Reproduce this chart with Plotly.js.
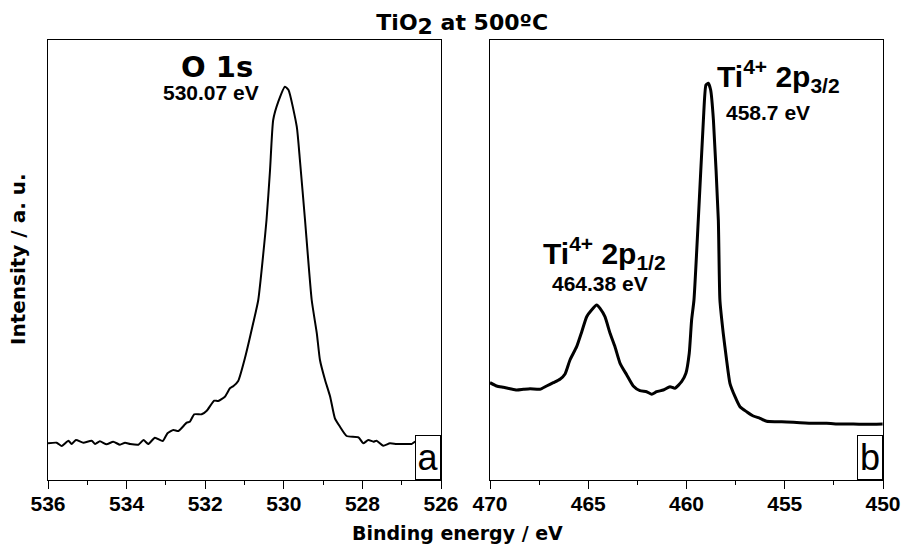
<!DOCTYPE html>
<html><head><meta charset="utf-8">
<script src="https://cdn.plot.ly/plotly-3.0.1.min.js"></script>
<style>html,body{margin:0;padding:0;background:#fff}#chart{width:901px;height:550px}</style>
</head><body><div id="chart"></div>
<script>
// O 1s spectrum (binding energy in eV, intensity in a.u.)
const o1sEnergy = [536.00,535.78,535.65,535.48,535.40,535.29,535.10,534.89,534.80,534.68,
  534.51,534.34,534.17,534.04,533.91,533.70,533.57,533.45,533.28,533.08,
  532.96,532.81,532.68,532.47,532.39,532.28,532.09,531.96,531.77,531.67,
  531.50,531.37,531.28,531.16,530.99,530.78,530.65,530.44,530.35,530.27,
  530.14,529.97,529.88,529.67,529.59,529.46,529.29,529.16,529.08,528.95,
  528.82,528.70,528.57,528.40,528.10,527.98,527.85,527.72,527.64,527.47,
  527.30,527.13,526.87,526.75,526.66,526.45,526.20];
const o1sIntensity = [36.7,37.3,34.0,39.3,36.0,40.0,37.3,39.3,36.0,38.7,
  35.7,38.3,35.3,37.3,36.0,35.3,40.0,36.0,42.3,39.0,
  46.7,50.0,49.0,57.3,58.3,65.7,65.7,69.3,79.3,79.0,
  83.3,91.7,94.0,99.0,121.7,156.7,180.0,260.0,310.0,360.0,
  378.3,393.3,390.0,353.3,320.0,260.0,180.0,146.7,120.0,100.0,
  83.3,61.7,53.3,44.0,42.7,36.7,40.0,38.3,39.3,34.3,
  36.7,36.0,36.0,36.0,38.3,37.0,36.5];

// Ti 2p spectrum
const ti2pEnergy = [470.00,469.66,469.32,468.98,468.64,468.30,467.96,467.46,467.12,466.78,
  466.44,466.18,465.93,465.59,465.33,465.08,464.83,464.57,464.40,464.15,
  463.89,463.64,463.38,463.04,462.71,462.37,462.03,461.77,461.52,461.18,
  460.84,460.59,460.25,460.03,459.86,459.74,459.62,459.40,459.14,459.01,
  458.89,458.77,458.63,458.38,458.30,458.13,457.96,457.79,457.53,457.28,
  456.94,456.60,456.26,455.92,455.41,454.90,454.22,453.54,452.87,452.19,
  451.51,450.83,450.02];
const ti2pIntensity = [97.3,94.0,92.7,91.3,90.0,90.7,91.3,90.7,94.0,97.3,
  100.7,106.0,120.0,133.3,148.3,163.3,170.0,175.0,171.7,163.3,
  146.7,133.3,116.7,105.0,94.0,89.3,88.3,85.7,88.3,90.0,
  93.3,91.7,98.3,106.7,126.7,160.0,180.0,260.0,360.0,395.0,
  396.7,390.0,360.0,260.0,180.0,146.7,120.0,96.7,83.3,73.3,
  68.3,64.0,61.7,58.7,58.3,58.0,57.3,56.7,56.7,56.0,
  56.0,55.7,56.0];

const o1sTicks = [536,534,532,530,528,526];
const ti2pTicks = [470,465,460,455,450];

const BOLD = 'bold';
const ARIAL = 'Liberation Sans, Arial, sans-serif';
const DEJAVU = 'DejaVu Sans, sans-serif';

const traces = [
  {x:o1sEnergy, y:o1sIntensity, xaxis:'x', yaxis:'y', type:'scatter', mode:'lines',
   line:{color:'#000', width:2, shape:'spline', smoothing:0.5}, hoverinfo:'skip'},
  {x:ti2pEnergy, y:ti2pIntensity, xaxis:'x2', yaxis:'y2', type:'scatter', mode:'lines',
   line:{color:'#000', width:3, shape:'spline', smoothing:0.5}, hoverinfo:'skip'}
];

function xAxis(domain, range, ticks, minorStep, anchor){
  return {domain:domain, range:range, anchor:anchor, tickmode:'array', tickvals:ticks,
    ticktext:ticks.map(v => '<b>' + v + '</b>'), ticks:'outside', ticklen:8, tickwidth:1, tickcolor:'#000',
    ticklabelstandoff:-3,
    minor:{dtick:minorStep, tick0:0, ticks:'outside', ticklen:4, tickwidth:1, tickcolor:'#000', showgrid:false},
    showline:true, mirror:true, linecolor:'#000', linewidth:1, showgrid:false, zeroline:false,
    tickfont:{family:ARIAL, size:21, weight:BOLD, color:'#000'}};
}
function yAxis(anchor){
  return {domain:[0,1], range:[0,440], anchor:anchor, showline:true, mirror:true, linecolor:'#000',
    linewidth:1, ticks:'', showticklabels:false, showgrid:false, zeroline:false};
}

const boxLabel = (t, xr, yr) => ({xref:xr, yref:yr, x:1, y:0, xanchor:'right', yanchor:'bottom',
  text:t, showarrow:false, font:{family:ARIAL, size:36, color:'#000'}, bgcolor:'#fff',
  bordercolor:'#000', borderwidth:1, borderpad:0, width:24, height:43});

const layout = {
  width:901, height:550, margin:{l:0, r:0, t:40, b:70},
  paper_bgcolor:'#fff', plot_bgcolor:'#fff', showlegend:false,
  font:{family:ARIAL, color:'#000'},
  title:{text:'TiO<sub><span style="font-size:22px">2</span></sub> at 500ºC',
    font:{family:DEJAVU, size:22, weight:BOLD, color:'#000'},
    x:0.513, xanchor:'center', xref:'paper', y:1-22/550, yanchor:'middle', yref:'container'},
  xaxis: xAxis([48/901, 441/901], [536,526], o1sTicks, 1, 'y'),
  yaxis: yAxis('x'),
  xaxis2: xAxis([490/901, 883/901], [470,450], ti2pTicks, 2.5, 'y2'),
  yaxis2: yAxis('x2'),
  annotations:[
    {xref:'x', yref:'y', x:531.70, y:413, text:'O 1s', showarrow:false,
     font:{family:DEJAVU, size:29, weight:BOLD, color:'#000'}},
    {xref:'x', yref:'y', x:531.85, y:388, text:'530.07 eV', showarrow:false,
     font:{family:ARIAL, size:21, weight:BOLD, color:'#000'}},
    {xref:'x2', yref:'y2', x:455.34, y:404, text:'Ti<sup>4+</sup> 2p<sub>3/2</sub>', showarrow:false,
     font:{family:ARIAL, size:30, weight:BOLD, color:'#000'}},
    {xref:'x2', yref:'y2', x:455.83, y:368, text:'458.7 eV', showarrow:false,
     font:{family:ARIAL, size:21, weight:BOLD, color:'#000'}},
    {xref:'x2', yref:'y2', x:464.17, y:227, text:'Ti<sup>4+</sup> 2p<sub>1/2</sub>', showarrow:false,
     font:{family:ARIAL, size:30, weight:BOLD, color:'#000'}},
    {xref:'x2', yref:'y2', x:464.40, y:196.5, text:'464.38 eV', showarrow:false,
     font:{family:ARIAL, size:21, weight:BOLD, color:'#000'}},
    boxLabel('a', 'x domain', 'y domain'),
    boxLabel('b', 'x2 domain', 'y2 domain'),
    {xref:'paper', yref:'paper', x:18/901, y:(480-259)/440, xanchor:'center', yanchor:'middle',
     textangle:-90, text:'Intensity / a. u.',
     showarrow:false, font:{family:DEJAVU, size:20, weight:BOLD, color:'#000'}},
    {xref:'paper', yref:'paper', x:457.5/901, y:(480-533)/440, xanchor:'center', yanchor:'middle',
     text:'Binding energy / eV',
     showarrow:false, font:{family:DEJAVU, size:19, weight:BOLD, color:'#000'}}
  ]
};

Plotly.newPlot('chart', traces, layout, {staticPlot:true, displayModeBar:false});
</script>
</body></html>
